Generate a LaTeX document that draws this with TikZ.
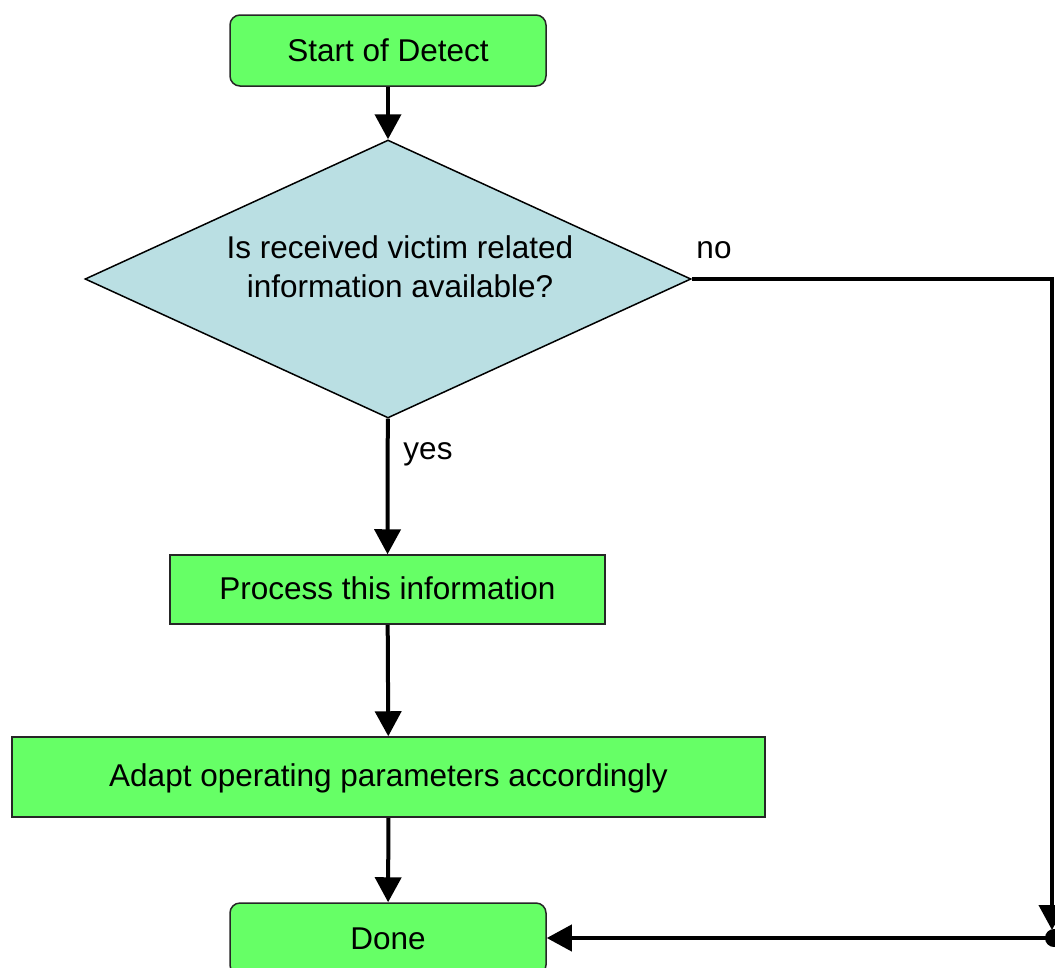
\documentclass[tikz,border=0pt]{standalone}
\usepackage{fontspec}
\setmainfont{Liberation Sans}
\usetikzlibrary{shapes.geometric,arrows.meta}
\definecolor{boxgreen}{RGB}{102,255,102}
\definecolor{decblue}{RGB}{186,223,227}
\begin{document}
\begin{tikzpicture}[x=1pt,y=-1pt,
  font=\fontsize{31.5}{39}\selectfont,
  box/.style={draw=black!85, line width=1.5pt, fill=boxgreen, inner sep=0pt, align=center},
  rbox/.style={box, rounded corners=10pt},
  conn/.style={line width=4pt, -{Triangle[length=25pt,width=26pt]}},
  lbl/.style={inner sep=0pt}]
\useasboundingbox (0,0) rectangle (1055,967);
\clip (0,0) rectangle (1055,967);
\node[rbox, minimum width=316pt, minimum height=71pt] (start) at (388,50.5) {Start of Detect};
\node[draw=black, line width=1.5pt, fill=decblue, shape=diamond, minimum width=606pt, minimum height=278pt, inner sep=0pt] (dec) at (388,279) {};
\node[lbl, align=center] (dectext) at (400,267) {Is received victim related\\information available?};
\node[box, minimum width=435pt, minimum height=69pt, text depth=3pt] (proc) at (387.5,589.5) {Process this information};
\node[box, minimum width=753pt, minimum height=80pt, text depth=3pt] (adapt) at (388.5,777) {Adapt operating parameters accordingly};
\node[rbox, minimum width=316pt, minimum height=72pt] (done) at (388,939) {Done};
\node[lbl] (no) at (714,250) {no};
\node[lbl] (yes) at (428,454) {yes};
\coordinate (corner) at (1052,279);
\coordinate (join) at (1052,938);
\draw[conn] (start) -- (dec);
\draw[conn] (dec) -- (proc);
\draw[conn] (proc) -- (adapt);
\draw[conn] (adapt) -- (done);
\draw[conn] (dec.east) -- (corner) -- ([yshift=8pt]join);
\draw[conn] (join) -- (done.east |- join);
\node[circle, fill=black, minimum size=18pt, inner sep=0pt] (dot) at (1054,938) {};
\end{tikzpicture}
\end{document}
